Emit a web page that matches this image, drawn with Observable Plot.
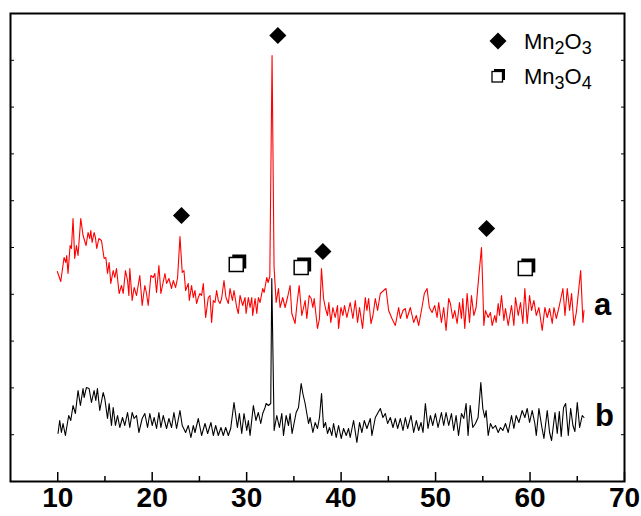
<!DOCTYPE html>
<html>
<head>
<meta charset="utf-8">
<script src="https://cdn.jsdelivr.net/npm/d3@7"></script>
<script src="https://cdn.jsdelivr.net/npm/@observablehq/plot@0.6"></script>
<style>
  html, body { margin: 0; padding: 0; background: #fff; }
  #wrap { position: relative; width: 641px; height: 516px; }
  #overlay { position: absolute; left: 0; top: 0; pointer-events: none; }
  text { font-family: "Liberation Sans", Arial, sans-serif; }
</style>
</head>
<body>
<div id="wrap">
  <div id="chart"></div>
  <svg id="overlay" width="641" height="516">
    <text x="594" y="315" font-size="31" font-weight="bold">a</text>
    <text x="595" y="426" font-size="31" font-weight="bold">b</text>
    <path d="M498,32.5 L506.5,41 L498,49.5 L489.5,41 Z" fill="#000"/>
    <text x="524" y="49" font-size="22">Mn<tspan dy="5" font-size="18">2</tspan><tspan dy="-5">O</tspan><tspan dy="5" font-size="18">3</tspan></text>
    <rect x="494" y="69" width="11" height="11" fill="#000"/>
    <rect x="492" y="71.5" width="10.5" height="10.5" fill="#fff" stroke="#000" stroke-width="1.3"/>
    <text x="524" y="84" font-size="22">Mn<tspan dy="5" font-size="18">3</tspan><tspan dy="-5">O</tspan><tspan dy="5" font-size="18">4</tspan></text>
  </svg>
</div>
<script>
// 2θ (degrees), intensity (a.u.) — curve a (red)
const seriesA = [
[9.96,210],[10.32,200],[10.67,224],[10.85,219],[10.95,226],[11.09,208],[11.31,236],[11.45,233],[11.62,263],[11.80,223],
[11.98,236],[12.15,226],[12.44,263],[12.68,246],[13.00,236],[13.21,249],[13.39,243],[13.50,251],[13.64,239],[13.85,249],
[13.99,244],[14.13,233],[14.35,243],[14.63,241],[14.91,223],[15.09,224],[15.27,208],[15.44,219],[15.62,198],[15.87,211],
[16.04,204],[16.22,213],[16.50,188],[16.75,196],[16.93,188],[17.17,211],[17.39,201],[17.53,186],[17.63,213],[17.88,181],
[18.09,194],[18.34,186],[18.69,206],[18.94,176],[19.22,196],[19.40,188],[19.58,176],[19.86,206],[20.11,204],[20.28,208],
[20.46,189],[20.71,216],[20.92,188],[21.35,208],[21.52,198],[21.77,203],[22.05,193],[22.23,201],[22.48,194],[22.69,204],
[22.94,245],[23.18,209],[23.36,211],[23.54,191],[23.82,198],[23.93,181],[24.17,196],[24.35,184],[24.53,191],[24.70,178],
[24.88,184],[25.06,188],[25.23,186],[25.41,198],[25.66,164],[25.94,184],[26.12,186],[26.29,159],[26.47,181],[26.65,179],
[26.82,191],[27.00,181],[27.18,178],[27.35,183],[27.60,201],[27.81,184],[28.06,178],[28.24,193],[28.49,181],[28.66,191],
[28.95,174],[29.12,168],[29.30,186],[29.58,176],[29.83,184],[29.94,168],[30.18,184],[30.36,174],[30.54,184],[30.64,166],
[30.89,183],[31.07,168],[31.24,184],[31.42,179],[31.70,193],[31.85,189],[32.13,204],[32.27,199],[32.45,205],[32.69,426],
[32.90,215],[33.12,179],[33.37,193],[33.54,174],[33.82,184],[34.07,174],[34.35,185],[34.60,196],[34.78,168],[35.13,158],
[35.31,176],[35.56,196],[35.84,166],[36.19,181],[36.37,163],[36.62,186],[36.83,183],[37.01,174],[37.15,183],[37.50,153],
[37.71,163],[37.92,213],[38.14,183],[38.35,173],[38.56,166],[38.70,179],[38.91,159],[39.13,174],[39.37,164],[39.62,176],
[39.73,153],[39.98,174],[40.19,166],[40.36,176],[40.61,164],[40.96,179],[41.25,163],[41.50,181],[41.74,159],[41.95,174],
[42.27,153],[42.56,184],[42.73,171],[42.91,183],[43.16,158],[43.37,166],[43.62,183],[43.86,171],[44.15,188],[44.50,191],
[44.75,193],[45.03,171],[45.38,163],[45.74,156],[46.09,174],[46.27,163],[46.55,171],[46.80,173],[46.97,163],[47.33,174],
[47.68,159],[47.96,166],[48.21,156],[48.56,174],[48.81,188],[49.10,193],[49.34,174],[49.63,169],[49.91,176],[50.16,164],
[50.33,179],[50.62,159],[50.86,174],[51.11,151],[51.39,183],[51.57,178],[51.82,163],[52.03,171],[52.28,158],[52.53,179],
[52.74,163],[52.88,183],[53.09,153],[53.34,188],[53.59,159],[53.80,186],[54.05,166],[54.29,174],[54.58,206],[54.86,234],
[54.99,196],[55.11,156],[55.28,171],[55.57,164],[55.81,169],[55.99,156],[56.27,166],[56.41,159],[56.63,178],[56.77,166],
[56.98,186],[57.23,161],[57.40,173],[57.69,156],[58.04,176],[58.29,156],[58.46,184],[58.75,166],[58.99,179],[59.24,158],
[59.45,193],[59.70,158],[59.95,186],[60.16,171],[60.41,181],[60.66,166],[60.94,174],[61.29,151],[61.57,174],[61.82,164],
[62.07,173],[62.35,158],[62.53,174],[62.78,163],[63.06,174],[63.48,193],[63.70,166],[63.94,193],[64.19,171],[64.40,188],
[64.65,156],[64.90,169],[65.36,211],[65.60,159],[65.71,171]
];
// 2θ (degrees), intensity (a.u.) — curve b (black)
const seriesB = [
[10.03,48],[10.21,61],[10.39,49],[10.56,58],[10.81,46],[11.16,66],[11.38,61],[11.62,76],[11.87,68],[12.15,91],
[12.40,76],[12.68,93],[12.79,84],[13.04,94],[13.32,93],[13.57,79],[13.85,91],[14.03,81],[14.20,93],[14.45,71],
[14.81,89],[14.98,83],[15.27,63],[15.44,78],[15.69,56],[15.87,74],[16.11,56],[16.33,66],[16.57,54],[16.86,64],
[17.10,56],[17.39,69],[17.63,54],[17.88,69],[18.09,63],[18.34,66],[18.59,49],[18.94,63],[19.22,68],[19.51,54],
[19.75,68],[20.00,56],[20.21,64],[20.46,53],[20.71,69],[20.92,54],[21.17,66],[21.52,53],[21.77,63],[22.05,54],
[22.30,69],[22.58,53],[22.94,71],[23.18,56],[23.54,49],[23.82,56],[24.10,44],[24.35,56],[24.53,49],[24.88,63],
[25.23,46],[25.59,58],[25.87,48],[26.22,59],[26.47,46],[26.72,56],[27.00,46],[27.28,54],[27.53,46],[27.78,54],
[28.06,46],[28.31,53],[28.66,79],[29.02,54],[29.23,68],[29.48,48],[29.72,68],[30.01,51],[30.18,61],[30.36,46],
[30.71,76],[30.98,61],[31.24,69],[31.49,58],[31.70,68],[31.95,74],[32.06,78],[32.31,76],[32.55,78],[32.66,203],
[32.91,51],[33.19,66],[33.47,54],[33.72,68],[33.90,46],[34.18,66],[34.43,56],[34.60,68],[34.81,48],[35.24,69],
[35.49,74],[35.77,98],[35.95,88],[36.19,78],[36.55,58],[36.72,64],[37.01,49],[37.25,59],[37.50,53],[37.71,64],
[37.93,88],[38.14,54],[38.35,59],[38.56,48],[38.77,54],[39.02,46],[39.20,58],[39.48,44],[39.73,56],[40.01,43],
[40.26,53],[40.54,46],[40.79,53],[40.96,44],[41.32,61],[41.67,39],[41.95,59],[42.20,49],[42.45,61],[42.73,53],
[43.09,63],[43.26,46],[43.62,64],[44.15,73],[44.43,64],[44.68,68],[44.92,58],[45.21,64],[45.49,54],[45.74,63],
[45.98,53],[46.27,63],[46.55,51],[46.80,64],[47.04,53],[47.40,66],[47.68,49],[47.96,61],[48.21,51],[48.46,59],
[48.67,49],[48.92,78],[49.20,53],[49.45,66],[49.70,56],[49.98,68],[50.26,54],[50.62,69],[50.86,56],[51.11,69],
[51.39,56],[51.68,68],[51.92,51],[52.17,66],[52.43,46],[52.74,68],[52.99,63],[53.23,78],[53.44,46],[53.66,76],
[53.94,54],[54.22,58],[54.50,64],[54.79,99],[55.00,73],[55.21,64],[55.35,71],[55.57,46],[55.81,58],[56.06,53],
[56.34,56],[56.63,49],[56.87,54],[57.12,51],[57.40,58],[57.69,49],[58.04,66],[58.29,53],[58.53,66],[58.82,59],
[59.17,71],[59.45,64],[59.70,73],[59.95,59],[60.23,71],[60.51,58],[60.66,46],[60.94,73],[61.22,56],[61.47,43],
[61.82,71],[62.07,49],[62.28,41],[62.64,69],[62.88,48],[63.10,70],[63.30,45],[63.55,74],[63.77,78],[64.05,46],
[64.30,73],[64.54,56],[64.75,50],[65.00,79],[65.25,54],[65.53,66],[65.71,64]
];
// Phase markers (2θ, intensity position)
const mn2o3Marks = [[23.1,266],[33.3,446],[38.07,230],[55.4,253]];
const mn3o4Marks = [[28.9,217],[35.77,214],[59.5,213]];
// Axis ticks
const xMajorTicks = [10, 20, 30, 40, 50, 60, 70];
const xMinorTicks = [15, 25, 35, 45, 55, 65];
const yTicks = [46.8, 93.6, 140.4, 187.2, 234, 280.8, 327.6, 374.4, 421.2];

const X = d => d[0], Y = d => d[1];
const chart = Plot.plot({
  width: 641,
  height: 516,
  marginLeft: 10,
  marginRight: 17,
  marginTop: 13,
  marginBottom: 35,
  x: {domain: [5, 70]},
  y: {domain: [0, 468]},
  style: {background: "#fff", fontFamily: "'Liberation Sans', Arial, sans-serif", overflow: "visible"},
  marks: [
    Plot.line(seriesA, {x: X, y: Y, stroke: "#ff0000", strokeWidth: 1.1}),
    Plot.line(seriesB, {x: X, y: Y, stroke: "#000", strokeWidth: 1.1}),
    Plot.dot(mn2o3Marks, {x: X, y: Y, symbol: "diamond2", r: 7.7, fill: "#000"}),
    Plot.dot(mn3o4Marks, {x: X, y: Y, symbol: "square", r: 7.9, fill: "#000", dx: 3, dy: -3}),
    Plot.dot(mn3o4Marks, {x: X, y: Y, symbol: "square", r: 7.9, fill: "#fff", stroke: "#000", strokeWidth: 1.5}),
    Plot.axisX({ticks: xMajorTicks, tickSize: -9, tickPadding: 15, label: null, fontSize: 28, fontWeight: "bold", strokeWidth: 1.5}),
    Plot.axisX({ticks: xMinorTicks, tickSize: -5, tickFormat: () => "", label: null, strokeWidth: 1.5}),
    Plot.axisY({anchor: "left", ticks: yTicks, tickSize: -4, tickFormat: () => "", label: null}),
    Plot.axisY({anchor: "right", ticks: yTicks, tickSize: -4, tickFormat: () => "", label: null}),
    Plot.frame({stroke: "#000", strokeWidth: 2})
  ]
});
document.getElementById("chart").appendChild(chart);
</script>
</body>
</html>
